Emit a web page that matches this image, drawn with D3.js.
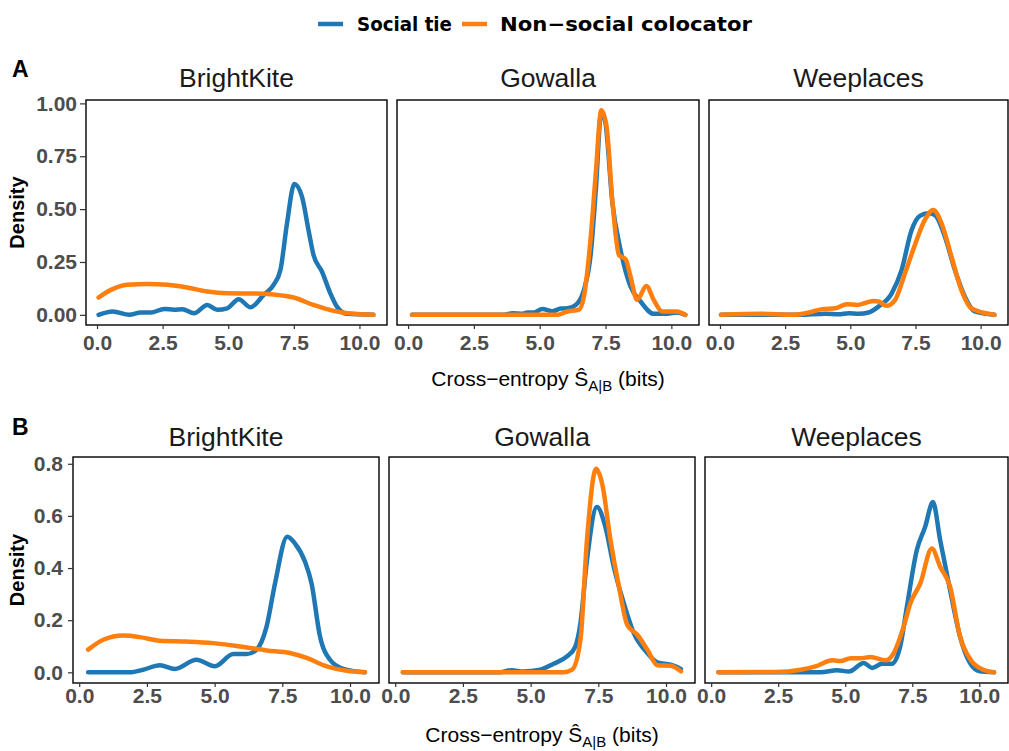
<!DOCTYPE html>
<html>
<head>
<meta charset="UTF-8">
<title>Cross-entropy densities</title>
<style>
  body { margin: 0; background: #fff; }
</style>
</head>
<body>
<script src="https://cdn.jsdelivr.net/npm/d3@7"></script>
<script>
// ---- data: [x, density] ----
var datasets = ["BrightKite", "Gowalla", "Weeplaces"];
var seriesNames = ["Social tie", "Non\u2212social colocator"];
var seriesColors = ["#1F77B4", "#FF7F0E"];
var xTicks = [0, 2.5, 5, 7.5, 10];
var yTicksA = [0, 0.25, 0.5, 0.75, 1];
var yTicksB = [0, 0.2, 0.4, 0.6, 0.8];

// row A
var aBrightSocial = [[0.06,0],[0.6,0.016],[1.23,0],[1.67,0.011],[2.05,0.011],[2.56,0.028],[2.94,0.024],[3.25,0.027],[3.7,0.008],[4.2,0.047],[4.58,0.024],[4.96,0.031],[5.4,0.074],[5.85,0.036],[6.35,0.094],[6.73,0.142],[6.99,0.213],[7.24,0.433],[7.52,0.619],[7.81,0.559],[8.06,0.40],[8.25,0.283],[8.57,0.205],[8.89,0.102],[9.14,0.039],[9.52,0.005],[10.53,0]];
var aBrightNon = [[0.06,0.082],[0.53,0.118],[1.16,0.142],[1.92,0.146],[2.68,0.142],[3.44,0.129],[4.2,0.110],[4.96,0.102],[5.97,0.101],[6.73,0.096],[7.49,0.082],[8.25,0.047],[9.01,0.019],[9.77,0.005],[10.53,0]];
var aGowSocial = [[0.15,0],[3.66,0],[3.97,0.008],[4.35,0.005],[4.54,0.011],[4.79,0.011],[5.1,0.028],[5.49,0.017],[5.8,0.030],[6.05,0.031],[6.37,0.047],[6.68,0.118],[6.94,0.29],[7.13,0.59],[7.34,0.96],[7.5,0.905],[7.76,0.53],[8.07,0.307],[8.45,0.134],[8.83,0.063],[9.33,0.005],[9.84,0.005],[10.21,0.011],[10.53,0]];
var aGowNon = [[0.15,0],[5.67,0],[6.05,0.016],[6.49,0.024],[6.68,0.087],[6.94,0.37],[7.13,0.67],[7.34,0.968],[7.54,0.89],[7.76,0.54],[8.01,0.283],[8.26,0.263],[8.45,0.181],[8.7,0.071],[9.05,0.137],[9.33,0.071],[9.65,0.016],[10.21,0.016],[10.53,0]];
var aWeeSocial = [[0.04,0],[3.03,0],[4.05,0.005],[4.55,0.003],[4.94,0.008],[5.32,0.005],[5.7,0.011],[6.08,0.039],[6.59,0.102],[6.97,0.213],[7.35,0.40],[7.67,0.468],[7.99,0.48],[8.24,0.472],[8.63,0.37],[9.01,0.213],[9.39,0.087],[9.77,0.016],[10.53,0]];
var aWeeNon = [[0.04,0],[1.63,0.005],[2.77,0],[3.41,0.011],[3.92,0.027],[4.43,0.031],[4.87,0.05],[5.27,0.047],[5.89,0.066],[6.08,0.063],[6.4,0.043],[6.72,0.071],[7.1,0.197],[7.48,0.331],[7.86,0.449],[8.18,0.496],[8.5,0.433],[8.88,0.276],[9.26,0.118],[9.64,0.031],[10.53,0]];

// row B
var bBrightSocial = [[0.33,0],[1.87,0],[2.36,0.010],[2.98,0.027],[3.53,0.013],[4.33,0.048],[5.01,0.023],[5.69,0.07],[6.18,0.07],[6.55,0.087],[6.92,0.176],[7.23,0.341],[7.68,0.52],[7.97,0.494],[8.34,0.424],[8.58,0.341],[8.89,0.138],[9.26,0.048],[9.75,0.013],[10.55,0]];
var bBrightNon = [[0.33,0.087],[0.89,0.125],[1.63,0.141],[2.24,0.135],[2.98,0.121],[3.97,0.118],[4.95,0.112],[5.94,0.099],[6.92,0.084],[7.78,0.074],[8.4,0.055],[9.14,0.023],[9.88,0.006],[10.55,0]];
var bGowSocial = [[0.28,0],[3.87,0],[4.3,0.008],[4.73,0.003],[5.35,0.010],[5.85,0.033],[6.34,0.061],[6.65,0.099],[6.84,0.189],[7.08,0.43],[7.45,0.634],[7.76,0.558],[8.07,0.405],[8.44,0.265],[8.81,0.150],[9.31,0.074],[9.68,0.038],[10.17,0.029],[10.55,0.013]];
var bGowNon = [[0.28,0],[6.22,0],[6.53,0.010],[6.84,0.125],[7.08,0.507],[7.42,0.781],[7.64,0.724],[7.95,0.507],[8.26,0.329],[8.57,0.182],[8.94,0.144],[9.31,0.087],[9.68,0.027],[10.17,0.025],[10.55,0.004]];
var bWeeSocial = [[0.27,0],[4.08,0],[4.7,0.008],[5.14,0.003],[5.69,0.036],[6.0,0.017],[6.37,0.033],[6.74,0.033],[7.05,0.099],[7.3,0.252],[7.67,0.469],[7.98,0.558],[8.27,0.653],[8.54,0.507],[8.91,0.316],[9.28,0.138],[9.65,0.036],[10.02,0.004],[10.55,0]];
var bWeeNon = [[0.27,0],[2.48,0.001],[3.34,0.010],[3.96,0.025],[4.52,0.046],[4.83,0.043],[5.2,0.054],[5.57,0.054],[5.94,0.059],[6.5,0.046],[6.81,0.074],[7.18,0.176],[7.43,0.265],[7.8,0.341],[8.23,0.475],[8.54,0.405],[8.91,0.329],[9.28,0.138],[9.72,0.042],[10.15,0.010],[10.55,0]];

// ---- layout ----
var W = 1009, H = 751;
var font = "'Liberation Sans', Arial, sans-serif";

var rows = [
  {
    tag: "A", tagY: 77,
    top: 100, bottom: 325,
    lefts: [86, 397, 709], rights: [387, 699, 1008],
    xDomain: [-0.42, 11.05], yDomain: [-0.048, 1.016],
    yTicks: yTicksA, yFmt: d3.format(".2f"),
    stripY: 87, xLabY: 386, xPad: 6, yTick: 6, yPad: 3,
    series: [[aBrightSocial, aBrightNon], [aGowSocial, aGowNon], [aWeeSocial, aWeeNon]]
  },
  {
    tag: "B", tagY: 435,
    top: 457, bottom: 683,
    lefts: [73, 389, 705], rights: [379, 695, 1008],
    xDomain: [-0.23, 11.07], yDomain: [-0.041, 0.826],
    yTicks: yTicksB, yFmt: d3.format(".1f"),
    stripY: 446, xLabY: 742, xPad: 1, yTick: 5, yPad: 5,
    series: [[bBrightSocial, bBrightNon], [bGowSocial, bGowNon], [bWeeSocial, bWeeNon]]
  }
];

var svg = d3.select("body").append("svg")
  .attr("width", W)
  .attr("height", H)
  .style("font-family", font);

// legend
var legend = svg.append("g").attr("class", "legend");
var legX = [318, 462];
var legText = [357, 500];
var legLen = [95, 252];
seriesNames.forEach(function(name, i) {
  legend.append("line")
    .attr("x1", legX[i]).attr("x2", legX[i] + 25)
    .attr("y1", 24).attr("y2", 24)
    .attr("stroke", seriesColors[i])
    .attr("stroke-width", 4.5);
  legend.append("text")
    .attr("x", legText[i]).attr("y", 31)
    .attr("textLength", legLen[i])
    .attr("lengthAdjust", "spacingAndGlyphs")
    .style("font-family", "'DejaVu Sans', sans-serif")
    .style("font-weight", "bold")
    .style("font-size", "20px")
    .attr("fill", "#000")
    .text(name);
});

rows.forEach(function(row) {
  svg.append("text")
    .attr("x", 12).attr("y", row.tagY)
    .style("font-weight", "bold")
    .style("font-size", "23px")
    .text(row.tag);

  // y title
  svg.append("text")
    .attr("transform", "translate(24," + ((row.top + row.bottom) / 2) + ") rotate(-90)")
    .attr("text-anchor", "middle")
    .style("font-weight", "bold")
    .style("font-size", "20px")
    .text("Density");

  datasets.forEach(function(name, p) {
    var x = d3.scaleLinear().domain(row.xDomain).range([row.lefts[p], row.rights[p]]);
    var y = d3.scaleLinear().domain(row.yDomain).range([row.bottom, row.top]);

    var g = svg.append("g").attr("class", "panel");

    // strip title
    g.append("text")
      .attr("x", (row.lefts[p] + row.rights[p]) / 2)
      .attr("y", row.stripY)
      .attr("text-anchor", "middle")
      .style("font-size", "26.5px")
      .attr("fill", "#1A1A1A")
      .text(name);

    var line = d3.line()
      .x(function(d) { return x(d[0]); })
      .y(function(d) { return y(d[1]); })
      .curve(d3.curveMonotoneX);

    row.series[p].forEach(function(s, i) {
      g.append("path")
        .datum(s)
        .attr("d", line)
        .attr("fill", "none")
        .attr("stroke", seriesColors[i])
        .attr("stroke-width", 4.5)
        .attr("stroke-linejoin", "round")
        .attr("stroke-linecap", "round");
    });

    // panel border
    g.append("rect")
      .attr("x", row.lefts[p]).attr("y", row.top)
      .attr("width", row.rights[p] - row.lefts[p])
      .attr("height", row.bottom - row.top)
      .attr("fill", "none")
      .attr("stroke", "#000")
      .attr("stroke-width", 1.4);

    // x axis
    var xa = g.append("g")
      .attr("transform", "translate(0," + row.bottom + ")")
      .call(d3.axisBottom(x).tickValues(xTicks).tickSize(4).tickPadding(row.xPad)
        .tickFormat(d3.format(".1f")));
    xa.select(".domain").remove();
    xa.selectAll(".tick line").attr("stroke", "#333").attr("stroke-width", 1.2);
    xa.selectAll(".tick text")
      .attr("fill", "#4D4D4D")
      .style("font-family", font)
      .style("font-weight", "bold")
      .style("font-size", "21px");

    // y axis only on first panel
    if (p === 0) {
      var ya = g.append("g")
        .attr("transform", "translate(" + row.lefts[p] + ",0)")
        .call(d3.axisLeft(y).tickValues(row.yTicks).tickSize(row.yTick).tickPadding(row.yPad)
          .tickFormat(row.yFmt));
      ya.select(".domain").remove();
      ya.selectAll(".tick line").attr("stroke", "#333").attr("stroke-width", 1.2);
      ya.selectAll(".tick text")
        .attr("fill", "#4D4D4D")
        .style("font-family", font)
        .style("font-weight", "bold")
        .style("font-size", "21px");
    }

    // x title under middle panel
    if (p === 1) {
      var t = g.append("text")
        .attr("x", (row.lefts[p] + row.rights[p]) / 2)
        .attr("y", row.xLabY)
        .attr("text-anchor", "middle")
        .style("font-size", "21px")
        .attr("fill", "#000");
      t.append("tspan").text("Cross\u2212entropy \u015C");
      t.append("tspan").attr("dy", 5).style("font-size", "15px").text("A|B");
      t.append("tspan").attr("dy", -5).text(" (bits)");
    }
  });
});
</script>
</body>
</html>
